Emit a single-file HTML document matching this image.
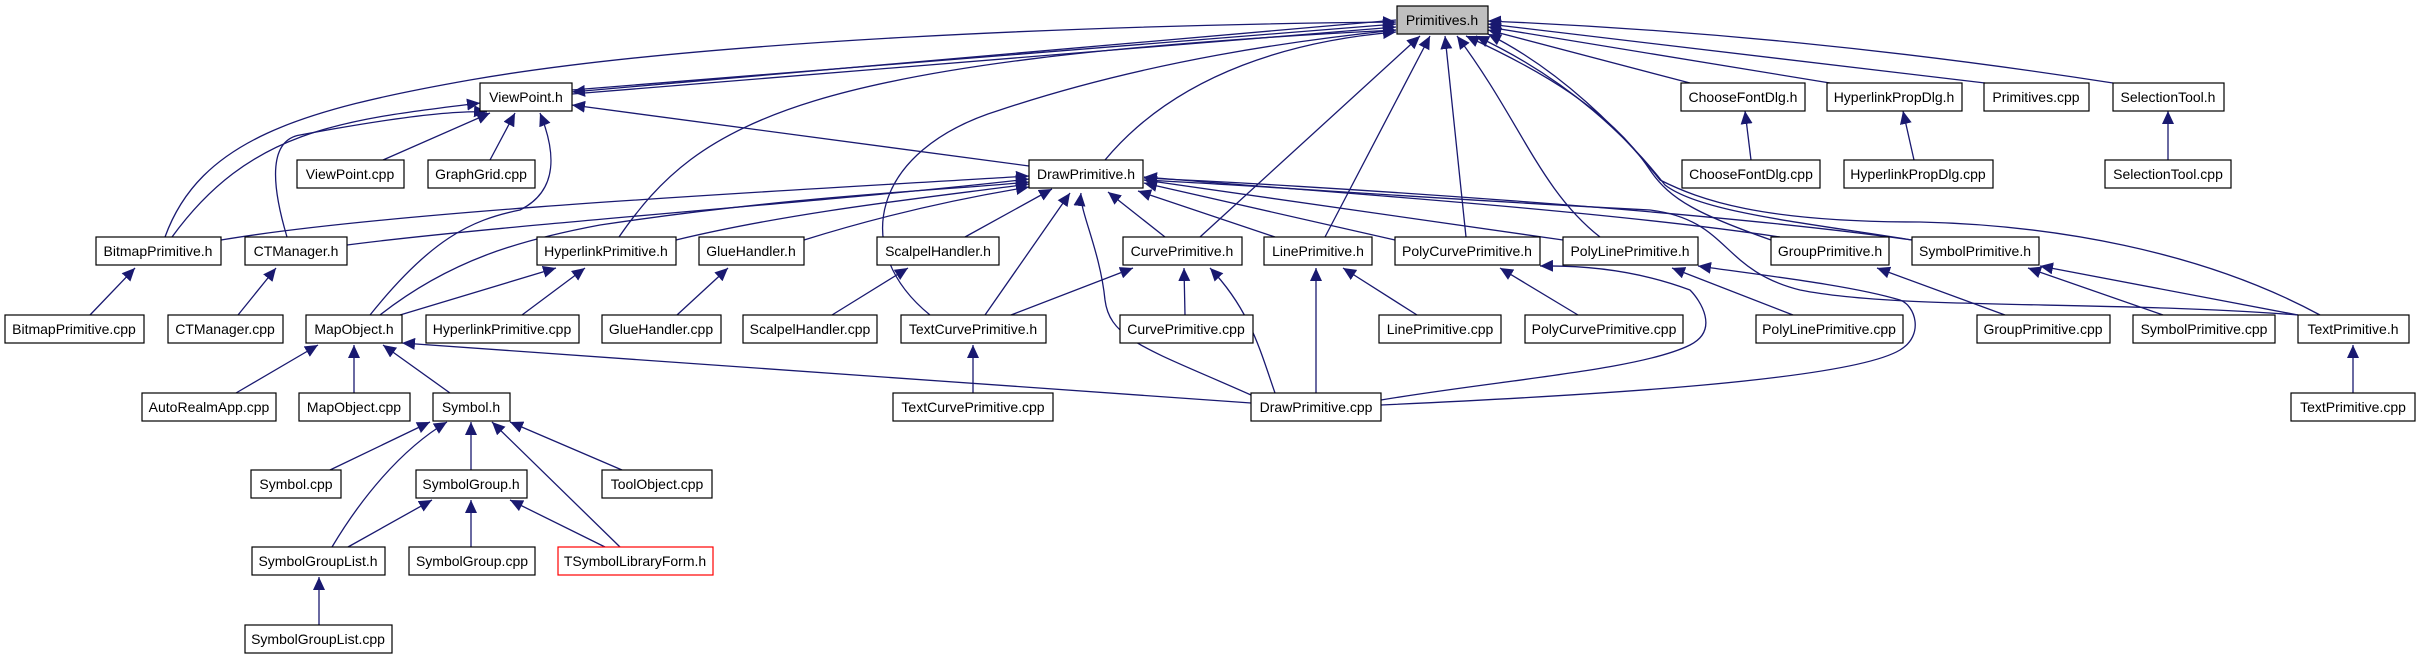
<!DOCTYPE html>
<html><head><meta charset="utf-8"><style>
html,body{margin:0;padding:0;background:#fff;width:2423px;height:659px;overflow:hidden}
text{font-family:"Liberation Sans",sans-serif;font-size:14px;fill:#000}
</style></head><body>
<svg width="2423" height="659" viewBox="0 0 2423 659" xmlns="http://www.w3.org/2000/svg">
<defs>
<marker id="a" markerUnits="userSpaceOnUse" markerWidth="14" markerHeight="12" refX="13" refY="6" orient="auto">
<path d="M0,0 L13,6 L0,12 Z" fill="#191970"/>
</marker>
</defs>
<g fill="none" stroke="#191970" stroke-width="1.3" marker-end="url(#a)">
<path d="M165,237 C200,140 300,110 470,80 C700,40 1100,25 1396,22"/>
<path d="M572,90 L1396,24"/>
<path d="M572,94 L1396,27"/>
<path d="M619,237 C700,120 800,60 1396,30"/>
<path d="M1105,160 C1180,70 1300,40 1396,32"/>
<path d="M930,315 C850,250 870,150 1000,110 C1150,60 1300,40 1396,30"/>
<path d="M1200,237 L1420,36"/>
<path d="M1325,237 L1430,36"/>
<path d="M1466,237 L1445,36"/>
<path d="M1600,237 C1540,190 1520,120 1457,36"/>
<path d="M1771,240 C1700,215 1670,200 1650,170 C1610,110 1540,70 1466,36"/>
<path d="M1912,240 C1800,222 1700,212 1665,185 C1630,140 1570,80 1476,36"/>
<path d="M2320,315 C2200,250 2050,225 1920,222 C1760,222 1700,200 1660,180 C1620,130 1560,70 1488,34"/>
<path d="M1690,83 L1488,30"/>
<path d="M1830,83 L1488,27"/>
<path d="M1985,83 L1488,24"/>
<path d="M2113,83 C1900,50 1700,30 1488,21"/>
<path d="M1751,160 L1745,111"/>
<path d="M1914,160 L1903,111"/>
<path d="M2168,160 L2168,111"/>
<path d="M172,237 C250,130 340,120 480,103"/>
<path d="M287,237 C270,180 270,140 300,135 C380,120 450,110 487,112"/>
<path d="M383,160 L490,113"/>
<path d="M490,160 L515,113"/>
<path d="M370,315 C430,240 470,220 520,210 C560,190 555,150 540,113"/>
<path d="M1029,166 L572,105"/>
<path d="M1396,20 L572,92"/>
<path d="M221,240 C400,210 800,190 1029,176"/>
<path d="M347,245 C500,225 850,200 1029,179"/>
<path d="M380,315 C450,260 520,240 600,225 C800,195 950,190 1029,182"/>
<path d="M676,240 C800,210 950,195 1029,184"/>
<path d="M804,240 C900,210 980,195 1029,187"/>
<path d="M965,237 L1052,189"/>
<path d="M985,315 L1070,193"/>
<path d="M1251,395 C1150,350 1110,340 1105,300 C1100,250 1079,210 1081,193"/>
<path d="M1165,237 L1108,192"/>
<path d="M1275,237 L1138,191"/>
<path d="M1395,240 L1144,183"/>
<path d="M1563,240 L1144,180"/>
<path d="M1780,237 C1600,210 1300,190 1144,177"/>
<path d="M1912,240 C1700,210 1300,185 1144,178"/>
<path d="M2298,315 C2100,300 1900,310 1800,290 C1720,270 1730,220 1650,210 C1450,200 1250,185 1144,180"/>
<path d="M90,315 L135,268"/>
<path d="M238,315 L276,268"/>
<path d="M400,315 L556,268"/>
<path d="M522,315 L585,268"/>
<path d="M677,315 L728,268"/>
<path d="M832,315 L908,268"/>
<path d="M1011,315 L1133,268"/>
<path d="M1185,315 L1184,268"/>
<path d="M1275,393 C1260,350 1250,310 1210,268"/>
<path d="M1316,393 L1316,268"/>
<path d="M1417,315 L1343,268"/>
<path d="M1578,315 L1500,268"/>
<path d="M1381,400 C1500,380 1640,370 1690,345 C1720,330 1700,300 1690,290 C1650,275 1600,265 1540,266"/>
<path d="M1381,405 C1600,395 1850,380 1900,350 C1925,335 1915,305 1900,300 C1850,285 1760,275 1698,266"/>
<path d="M1793,315 L1672,268"/>
<path d="M2005,315 L1877,268"/>
<path d="M2163,315 L2028,268"/>
<path d="M2298,315 L2040,266"/>
<path d="M2353,393 L2353,345"/>
<path d="M973,393 L973,345"/>
<path d="M1251,403 L402,343"/>
<path d="M236,393 L318,345"/>
<path d="M354,393 L354,345"/>
<path d="M450,393 L383,345"/>
<path d="M330,470 L430,422"/>
<path d="M332,547 C360,500 400,450 447,422"/>
<path d="M471,470 L471,422"/>
<path d="M620,547 L492,422"/>
<path d="M622,470 L510,422"/>
<path d="M348,547 L432,500"/>
<path d="M471,547 L471,500"/>
<path d="M605,547 L510,500"/>
<path d="M319,625 L319,577"/>
</g>
<g stroke="#000" stroke-width="1.2" fill="#fff">
<rect x="1397" y="6" width="91" height="28" fill="#bfbfbf"/>
<rect x="480" y="83" width="92" height="28"/>
<rect x="1681" y="83" width="124" height="28"/>
<rect x="1827" y="83" width="135" height="28"/>
<rect x="1984" y="83" width="105" height="28"/>
<rect x="2113" y="83" width="111" height="28"/>
<rect x="297" y="160" width="107" height="28"/>
<rect x="428" y="160" width="107" height="28"/>
<rect x="1029" y="160" width="114" height="28"/>
<rect x="1682" y="160" width="138" height="28"/>
<rect x="1844" y="160" width="149" height="28"/>
<rect x="2105" y="160" width="126" height="28"/>
<rect x="96" y="237" width="125" height="28"/>
<rect x="245" y="237" width="102" height="28"/>
<rect x="537" y="237" width="139" height="28"/>
<rect x="699" y="237" width="105" height="28"/>
<rect x="877" y="237" width="122" height="28"/>
<rect x="1123" y="237" width="119" height="28"/>
<rect x="1264" y="237" width="108" height="28"/>
<rect x="1395" y="237" width="145" height="28"/>
<rect x="1563" y="237" width="135" height="28"/>
<rect x="1771" y="237" width="118" height="28"/>
<rect x="1912" y="237" width="127" height="28"/>
<rect x="5" y="315" width="139" height="28"/>
<rect x="168" y="315" width="115" height="28"/>
<rect x="306" y="315" width="96" height="28"/>
<rect x="426" y="315" width="153" height="28"/>
<rect x="602" y="315" width="119" height="28"/>
<rect x="743" y="315" width="134" height="28"/>
<rect x="901" y="315" width="145" height="28"/>
<rect x="1120" y="315" width="133" height="28"/>
<rect x="1379" y="315" width="122" height="28"/>
<rect x="1525" y="315" width="158" height="28"/>
<rect x="1756" y="315" width="147" height="28"/>
<rect x="1977" y="315" width="133" height="28"/>
<rect x="2133" y="315" width="142" height="28"/>
<rect x="2298" y="315" width="111" height="28"/>
<rect x="142" y="393" width="134" height="28"/>
<rect x="299" y="393" width="111" height="28"/>
<rect x="433" y="393" width="77" height="28"/>
<rect x="893" y="393" width="160" height="28"/>
<rect x="1251" y="393" width="130" height="28"/>
<rect x="2291" y="393" width="124" height="28"/>
<rect x="251" y="470" width="90" height="28"/>
<rect x="416" y="470" width="111" height="28"/>
<rect x="602" y="470" width="110" height="28"/>
<rect x="252" y="547" width="133" height="28"/>
<rect x="409" y="547" width="126" height="28"/>
<rect x="558" y="547" width="155" height="28" stroke="#ff0000"/>
<rect x="245" y="625" width="147" height="28"/>
</g>
<g text-anchor="middle">
<text x="1442" y="25">Primitives.h</text>
<text x="526" y="102">ViewPoint.h</text>
<text x="1743" y="102">ChooseFontDlg.h</text>
<text x="1894" y="102">HyperlinkPropDlg.h</text>
<text x="2036" y="102">Primitives.cpp</text>
<text x="2168" y="102">SelectionTool.h</text>
<text x="350" y="179">ViewPoint.cpp</text>
<text x="481" y="179">GraphGrid.cpp</text>
<text x="1086" y="179">DrawPrimitive.h</text>
<text x="1751" y="179">ChooseFontDlg.cpp</text>
<text x="1918" y="179">HyperlinkPropDlg.cpp</text>
<text x="2168" y="179">SelectionTool.cpp</text>
<text x="158" y="256">BitmapPrimitive.h</text>
<text x="296" y="256">CTManager.h</text>
<text x="606" y="256">HyperlinkPrimitive.h</text>
<text x="751" y="256">GlueHandler.h</text>
<text x="938" y="256">ScalpelHandler.h</text>
<text x="1182" y="256">CurvePrimitive.h</text>
<text x="1318" y="256">LinePrimitive.h</text>
<text x="1467" y="256">PolyCurvePrimitive.h</text>
<text x="1630" y="256">PolyLinePrimitive.h</text>
<text x="1830" y="256">GroupPrimitive.h</text>
<text x="1975" y="256">SymbolPrimitive.h</text>
<text x="74" y="334">BitmapPrimitive.cpp</text>
<text x="225" y="334">CTManager.cpp</text>
<text x="354" y="334">MapObject.h</text>
<text x="502" y="334">HyperlinkPrimitive.cpp</text>
<text x="661" y="334">GlueHandler.cpp</text>
<text x="810" y="334">ScalpelHandler.cpp</text>
<text x="973" y="334">TextCurvePrimitive.h</text>
<text x="1186" y="334">CurvePrimitive.cpp</text>
<text x="1440" y="334">LinePrimitive.cpp</text>
<text x="1604" y="334">PolyCurvePrimitive.cpp</text>
<text x="1829" y="334">PolyLinePrimitive.cpp</text>
<text x="2043" y="334">GroupPrimitive.cpp</text>
<text x="2204" y="334">SymbolPrimitive.cpp</text>
<text x="2353" y="334">TextPrimitive.h</text>
<text x="209" y="412">AutoRealmApp.cpp</text>
<text x="354" y="412">MapObject.cpp</text>
<text x="471" y="412">Symbol.h</text>
<text x="973" y="412">TextCurvePrimitive.cpp</text>
<text x="1316" y="412">DrawPrimitive.cpp</text>
<text x="2353" y="412">TextPrimitive.cpp</text>
<text x="296" y="489">Symbol.cpp</text>
<text x="471" y="489">SymbolGroup.h</text>
<text x="657" y="489">ToolObject.cpp</text>
<text x="318" y="566">SymbolGroupList.h</text>
<text x="472" y="566">SymbolGroup.cpp</text>
<text x="635" y="566">TSymbolLibraryForm.h</text>
<text x="318" y="644">SymbolGroupList.cpp</text>
</g>
</svg>
</body></html>
